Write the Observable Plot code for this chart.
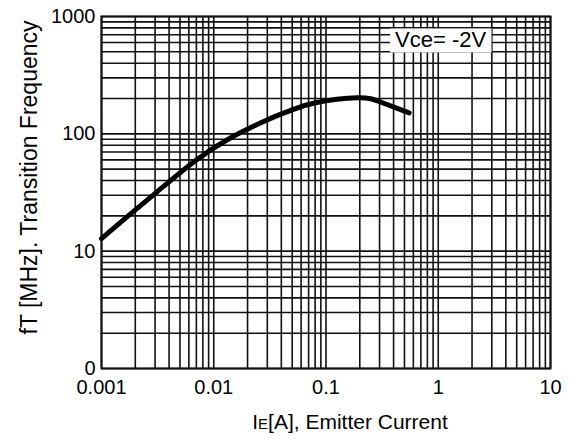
<!DOCTYPE html>
<html><head><meta charset="utf-8">
<script src="https://cdn.jsdelivr.net/npm/d3@7"></script>
<script src="https://cdn.jsdelivr.net/npm/@observablehq/plot@0.6"></script>
<style>
body{margin:0;background:#fff;}
#chart{width:571px;height:439px;}
</style></head><body><div id="chart"></div>
<script>
// Curve data
const emitterCurrentA = [0.001, 0.00175, 0.0035, 0.0069, 0.0137, 0.0272, 0.04, 0.05, 0.079, 0.19, 0.31, 0.55];
const transitionFreqMHz = [12.8, 20.2, 35.1, 59.3, 90.8, 126, 148, 160, 183, 203, 186, 151];

// Axis ticks and labels
const xTicks = [0.001, 0.01, 0.1, 1, 10];
const xTickLabels = ["0.001", "0.01", "0.1", "1", "10"];
const yTicks = [1, 10, 100, 1000];
const yTickLabels = ["0", "10", "100", "1000"];

// Log grid: multiples within each decade
const gridMultipliers = [1, 2, 3, 4, 5, 6, 7, 8, 9];
const xDecades = [0.001, 0.01, 0.1, 1];
const yDecades = [1, 10, 100];

// Annotation
const annotationText = ["Vce= -2V"];
const annotationX = [1.05];
const annotationY = [625];

const xTitle = "IE[A], Emitter Current";
const yTitle = "fT [MHz]. Transition Frequency";

const curve = emitterCurrentA.map((x, i) => ({x, y: transitionFreqMHz[i]}));
const xGrid = xDecades.flatMap(d => gridMultipliers.map(m => m * d)).concat([10]);
const yGrid = yDecades.flatMap(d => gridMultipliers.map(m => m * d)).concat([1000]);
const annotations = annotationText.map((t, i) => ({text: t, x: annotationX[i], y: annotationY[i]}));

const plot = Plot.plot({
  width: 571,
  height: 439,
  marginLeft: 101,
  marginRight: 21,
  marginTop: 16,
  marginBottom: 71,
  style: {fontFamily: "'Liberation Sans', Arial, sans-serif", fontSize: "20px", background: "white", color: "black"},
  x: {type: "log", domain: [0.001, 10]},
  y: {type: "log", domain: [1, 1000]},
  marks: [
    Plot.ruleX(xGrid, {stroke: "#111", strokeWidth: 1.6}),
    Plot.ruleY(yGrid, {stroke: "#111", strokeWidth: 1.6}),
    Plot.frame({stroke: "#111", strokeWidth: 2}),
    Plot.line(curve, {x: "x", y: "y", stroke: "black", strokeWidth: 5, curve: "natural"}),
    Plot.axisX(xTicks, {tickSize: 0, tickPadding: 11, tickFormat: d => xTickLabels[xTicks.indexOf(d)], label: null, fontSize: 20}),
    Plot.axisY(yTicks, {tickSize: 0, tickPadding: 6, tickFormat: d => yTickLabels[yTicks.indexOf(d)], label: null, fontSize: 20}),
    Plot.text(annotations, {x: "x", y: "y", text: "text", fontSize: 22}),
    Plot.text([xTitle], {text: d => d, frameAnchor: "bottom", dy: 54, dx: 24, fontSize: 21, lineAnchor: "middle", textAnchor: "middle"}),
    Plot.text([yTitle], {text: d => d, frameAnchor: "left", rotate: -90, dx: -72, dy: -15, fontSize: 23, lineAnchor: "middle", textAnchor: "middle"})
  ]
});
document.getElementById("chart").appendChild(plot);

const allTexts = Array.from(plot.querySelectorAll("text"));

// Smaller "E" in the x title (I with E index)
const xt = allTexts.find(t => t.textContent === xTitle);
if (xt) {
  xt.textContent = "I";
  const ts = document.createElementNS("http://www.w3.org/2000/svg", "tspan");
  ts.setAttribute("font-size", "15");
  ts.textContent = "E";
  xt.appendChild(ts);
  const ts2 = document.createElementNS("http://www.w3.org/2000/svg", "tspan");
  ts2.textContent = "[A], Emitter Current";
  xt.appendChild(ts2);
}

// White box behind the annotation
allTexts.filter(t => annotationText.includes(t.textContent)).forEach(t => {
  const bb = t.getBBox();
  const r = document.createElementNS("http://www.w3.org/2000/svg", "rect");
  r.setAttribute("x", bb.x - 5);
  r.setAttribute("y", bb.y + 1);
  r.setAttribute("width", bb.width + 10);
  r.setAttribute("height", bb.height - 1);
  r.setAttribute("fill", "white");
  if (t.getAttribute("transform")) r.setAttribute("transform", t.getAttribute("transform"));
  t.parentNode.insertBefore(r, t);
});
</script>
</body></html>
